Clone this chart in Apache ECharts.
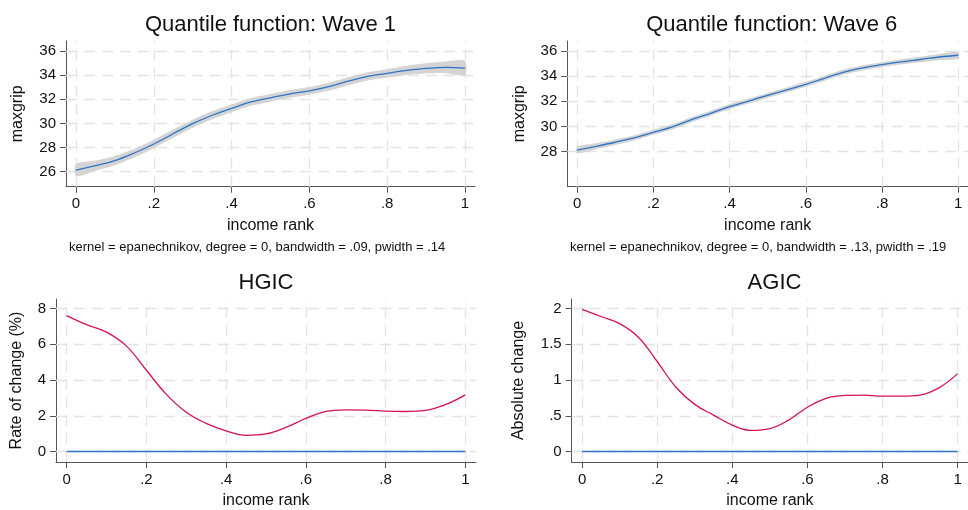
<!DOCTYPE html>
<html><head><meta charset="utf-8">
<script src="https://cdn.jsdelivr.net/npm/echarts@6/dist/echarts.min.js"></script>
<style>html,body{margin:0;padding:0;background:#fff}#c{width:968px;height:510px}</style>
</head><body><div id="c"></div>
<script>
// ---- data ----
const rank = [0,0.05,0.1,0.15,0.2,0.25,0.3,0.35,0.4,0.45,0.5,0.55,0.6,0.65,0.7,0.75,0.8,0.85,0.9,0.95,1];

const wave1Mean  = [26.14,26.5,26.92,27.55,28.3,29.15,29.98,30.68,31.25,31.78,32.12,32.45,32.7,33.05,33.5,33.9,34.15,34.4,34.56,34.65,34.58];
const wave1Lower = [25.64,26.07,26.53,27.19,27.95,28.81,29.65,30.35,30.93,31.46,31.80,32.13,32.38,32.72,33.17,33.56,33.80,34.02,34.14,34.17,33.98];
const wave1Upper = [26.64,26.93,27.31,27.91,28.65,29.49,30.31,31.01,31.57,32.10,32.44,32.77,33.02,33.38,33.83,34.24,34.50,34.78,34.98,35.13,35.18];

const wave6Mean  = [28.13,28.43,28.75,29.1,29.54,29.97,30.54,31.05,31.57,32.02,32.47,32.9,33.35,33.84,34.32,34.66,34.91,35.13,35.32,35.52,35.66];
const wave6Lower = [27.86,28.19,28.53,28.89,29.34,29.77,30.34,30.85,31.37,31.82,32.27,32.70,33.15,33.64,34.12,34.46,34.71,34.92,35.10,35.28,35.39];
const wave6Upper = [28.40,28.67,28.97,29.31,29.74,30.17,30.74,31.25,31.77,32.22,32.67,33.10,33.55,34.04,34.52,34.86,35.11,35.34,35.54,35.76,35.93];

const hgic = [7.61,7.1,6.68,5.9,4.55,3.2,2.2,1.57,1.15,0.9,0.98,1.35,1.85,2.24,2.33,2.32,2.26,2.24,2.3,2.62,3.17];
const agic = [1.99,1.89,1.79,1.6,1.26,0.9,0.66,0.51,0.37,0.295,0.32,0.44,0.62,0.745,0.785,0.79,0.775,0.775,0.79,0.89,1.09];

const zeroRank = [0, 1];
const zeroValue = [0, 0];

const xTickValues = [0,0.2,0.4,0.6,0.8,1];
const xTickLabels = ['0','.2','.4','.6','.8','1'];
const y1TickValues = [26,28,30,32,34,36];
const y1TickLabels = ['26','28','30','32','34','36'];
const y2TickValues = [28,30,32,34,36];
const y2TickLabels = ['28','30','32','34','36'];
const y3TickValues = [0,2,4,6,8];
const y3TickLabels = ['0','2','4','6','8'];
const y4TickValues = [0,0.5,1,1.5,2];
const y4TickLabels = ['0','.5','1','1.5','2'];

const titles = ['Quantile function: Wave 1','Quantile function: Wave 6','HGIC','AGIC'];
const notes = ['kernel = epanechnikov, degree = 0, bandwidth = .09, pwidth = .14',
               'kernel = epanechnikov, degree = 0, bandwidth = .13, pwidth = .19'];
const yNames = ['maxgrip','maxgrip','Rate of change (%)','Absolute change'];
const xName = 'income rank';

// ---- styling ----
const FONT = 'Liberation Sans, Arial, Helvetica, sans-serif';
const TXT = '#111';
const AX = '#555';
const BLUE = '#2d74c8';
const RED = '#d41159';
const BAND = '#d4d4d4';
const GRIDC = '#e3e3e3';

const pairs = (xs, ys) => xs.map((x, i) => [x, ys[i]]);
const fmt = (vals, labs) => v => { for (let i = 0; i < vals.length; i++) if (Math.abs(v - vals[i]) < 1e-6) return labs[i]; return ''; };

const grids = [
  {left: 66,    top: 41,  width: 409,   height: 145.7},
  {left: 567.3, top: 41,  width: 409,   height: 145.7},
  {left: 56,    top: 299, width: 420,   height: 164.3},
  {left: 571.7, top: 299, width: 405.6, height: 164.3}
];
const xRanges = [[-0.0257,1.0257],[-0.0257,1.0257],[-0.0268,1.0268],[-0.0276,1.0276]];
const yRanges = [[24.76,36.83],[25.22,36.79],[-0.589,8.539],[-0.147,2.135]];
const yTicks = [[y1TickValues,y1TickLabels],[y2TickValues,y2TickLabels],[y3TickValues,y3TickLabels],[y4TickValues,y4TickLabels]];
const yGaps = [40, 40, 31, 45];

const xAxes = grids.map((g, i) => ({
  type: 'value', gridIndex: i, min: xRanges[i][0], max: xRanges[i][1],
  name: xName, nameLocation: 'middle', nameGap: 31,
  nameTextStyle: {fontSize: 16, color: TXT, fontFamily: FONT},
  axisLine: {show: true, onZero: false, lineStyle: {color: AX, width: 1}},
  axisTick: {show: true, customValues: xTickValues, length: 6, lineStyle: {color: AX, width: 1}},
  axisLabel: {customValues: xTickValues, formatter: fmt(xTickValues, xTickLabels), fontSize: 15, color: TXT, fontFamily: FONT, margin: 10},
  splitLine: {show: false}
}));
const yAxes = grids.map((g, i) => ({
  type: 'value', gridIndex: i, min: yRanges[i][0], max: yRanges[i][1],
  name: yNames[i], nameLocation: 'middle', nameGap: yGaps[i],
  nameTextStyle: {fontSize: 16, color: TXT, fontFamily: FONT},
  axisLine: {show: true, onZero: false, lineStyle: {color: AX, width: 1}},
  axisTick: {show: true, customValues: yTicks[i][0], length: 6, lineStyle: {color: AX, width: 1}},
  axisLabel: {customValues: yTicks[i][0], formatter: fmt(yTicks[i][0], yTicks[i][1]), fontSize: 15, color: TXT, fontFamily: FONT, margin: 10},
  splitLine: {show: false}
}));

const gridLineSeries = grids.map((g, i) => ({
  type: 'line', xAxisIndex: i, yAxisIndex: i, data: [], silent: true, z: 1,
  markLine: {
    silent: true, z: 1, animation: false, symbol: ['none','none'],
    label: {show: false}, emphasis: {disabled: true},
    lineStyle: {type: [11, 7], color: GRIDC, width: 1.3},
    data: xTickValues.map(v => ({xAxis: v})).concat(yTicks[i][0].map(v => ({yAxis: v})))
  }
}));

// confidence band drawn as a polygon through the axis scales
const bandSeries = (i, lower, upper) => ({
  type: 'custom', xAxisIndex: i, yAxisIndex: i, silent: true, z: 2,
  data: [[rank[0], lower[0]]],
  renderItem: (params, api) => {
    const top = rank.map((r, k) => api.coord([r, upper[k]]));
    const bot = rank.map((r, k) => api.coord([r, lower[k]])).reverse();
    return {type: 'polygon', shape: {points: top.concat(bot), smooth: 0.25}, style: {fill: BAND}};
  }
});
const lineSeries = (i, xs, ys, color) => ({
  type: 'line', xAxisIndex: i, yAxisIndex: i, data: pairs(xs, ys), smooth: 0.4,
  symbol: 'none', lineStyle: {color: color, width: 1.3}, silent: true, z: 3
});

const series = [].concat(
  gridLineSeries,
  [bandSeries(0, wave1Lower, wave1Upper),
   bandSeries(1, wave6Lower, wave6Upper),
   lineSeries(0, rank, wave1Mean, BLUE),
   lineSeries(1, rank, wave6Mean, BLUE),
   lineSeries(2, zeroRank, zeroValue, BLUE),
   lineSeries(2, rank, hgic, RED),
   lineSeries(3, zeroRank, zeroValue, BLUE),
   lineSeries(3, rank, agic, RED)]
);

const titlePos = [[270.5, 25], [771.8, 25], [266, 283], [774.5, 283]];
const graphic = titles.map((t, i) => ({
  type: 'text', x: titlePos[i][0], y: titlePos[i][1], silent: true,
  style: {text: t, font: '22px ' + FONT, fill: TXT, align: 'center', verticalAlign: 'middle'}
})).concat(notes.map((t, i) => ({
  type: 'text', x: [69, 570][i], y: 247, silent: true,
  style: {text: t, font: '13px ' + FONT, fill: TXT, align: 'left', verticalAlign: 'middle'}
})));

const chart = echarts.init(document.getElementById('c'), null, {renderer: 'canvas'});
chart.setOption({
  animation: false,
  backgroundColor: '#fff',
  grid: grids.map(g => Object.assign({containLabel: false, show: false}, g)),
  xAxis: xAxes,
  yAxis: yAxes,
  series: series,
  graphic: graphic
});
</script></body></html>
